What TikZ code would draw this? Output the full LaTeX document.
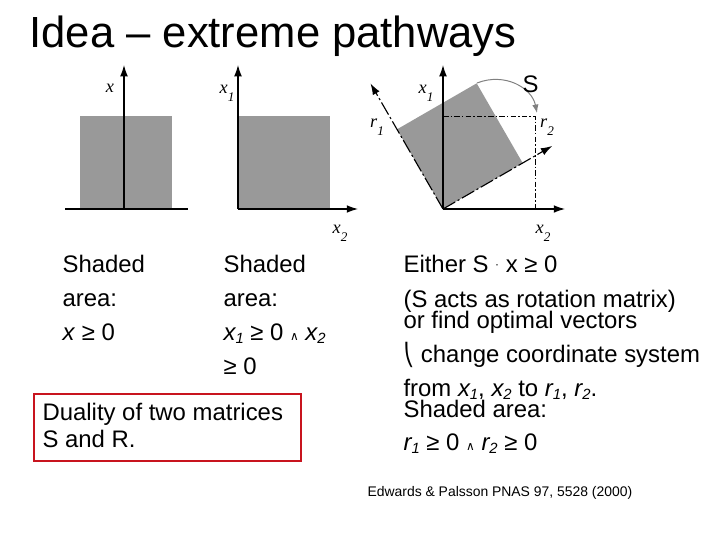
\documentclass[tikz,border=0pt]{standalone}
\usepackage{fontspec}
\setmainfont{Liberation Sans}
\newfontfamily\labelfont{Liberation Serif}
\newfontfamily\symfont{DejaVu Sans}
\usetikzlibrary{arrows.meta}
\newcommand{\dn}[2][-0.15em]{\raisebox{#1}{\scalebox{0.62}{#2}}}
\newcommand{\axdn}[1]{\raisebox{-0.45em}{\scalebox{0.72}{#1}}}
\newcommand{\wedgesym}{{\symfont\scalebox{0.5}{∧}}}

\begin{document}
\begin{tikzpicture}[x=0.025cm, y=-0.025cm, >={Latex[length=8pt,width=5.5pt]}, line width=0.8pt,
  shaded/.style={fill=black!40, draw=none},
  axislbl/.style={font=\labelfont\itshape\fontsize{13}{13}\selectfont, inner sep=0pt},
  body/.style={font=\fontsize{17}{20}\selectfont, anchor=base west, inner sep=0pt},
  rotaxis/.style={dash pattern=on 10pt off 2pt on 1.5pt off 2pt}]
\useasboundingbox (0,0) rectangle (720,540);

\node[body, font=\fontsize{31}{34}\selectfont] (title) at (29,47) {Idea – extreme pathways};

% first picture
\fill[shaded] (80,116) rectangle (172,209);
\draw[->] (124,209) -- (124,65);
\draw (65,209) -- (188,209);
\node[axislbl] (xa) at (110,88) {x};

% second picture
\fill[shaded] (238,116) rectangle (330,209);
\draw[->] (238,209) -- (238,65);
\draw[->] (238,209) -- (358,209);
\node[axislbl] (xb1) at (227,93) {x\axdn{1}};
\node[axislbl] (xb2) at (340,233) {x\axdn{2}};

% third picture, rotated square
\coordinate (o) at (443,209);
\fill[shaded] (o) -- ++(-30:92) -- ++(-120:92) -- ++(150:92) -- cycle;
\draw[dash pattern=on 4pt off 1.5pt on 1pt off 1.5pt, line width=0.6pt] (443,116) -| (535,209);
\draw[->] (o) -- (443,65);
\draw[->] (o) -- (565,209);
\draw[->, rotaxis] (o) -- ++(-120:145) coordinate (r1tip);
\draw[->, rotaxis] (o) -- ++(-30:126) coordinate (r2tip);
\coordinate (sq) at (477,83);
\coordinate (sqend) at (537,113);
\draw[->, gray, line width=0.7pt, >={Latex[length=6pt,width=4.5pt]}] (sq) .. controls (505,72) and (532,88) .. (sqend);
\node[body] (slbl) at (522,92) {S};
\node[axislbl] (xc1) at (426,93) {x\axdn{1}};
\node[axislbl] (rc1) at (377,127) {r\axdn{1}};
\node[axislbl] (rc2) at (547,127) {r\axdn{2}};
\node[axislbl] (xc2) at (543,233) {x\axdn{2}};

% captions
\node[body] (ca1) at (62,272) {Shaded};
\node[body] (ca2) at (62,306) {area:};
\node[body] (ca3) at (62,340) {\textit{x} ≥ 0};
\node[body] (cb1) at (223,272) {Shaded};
\node[body] (cb2) at (223,306) {area:};
\node[body] (cb3) at (223,340) {\textit{x\dn{1}} ≥ 0 \wedgesym\ \textit{x\dn{2}}};
\node[body] (cb4) at (223,374) {≥ 0};

\node[draw={rgb,255:red,200;green,20;blue,30}, line width=1.6pt, minimum width=267*0.025cm, minimum height=67*0.025cm, anchor=north west, inner sep=0pt] (dual) at (33,393) {};
\node[body] (du1) at (42,420) {Duality of two matrices};
\node[body] (du2) at (42,447) {S and R.};

\node[body] (ra) at (403,272) {Either S \raisebox{0.15em}{\scalebox{0.5}{·}} x ≥ 0};
\node[body] (rb) at (403,307) {(S acts as rotation matrix)};
\node[body] (rc) at (403,328) {or find optimal vectors};
\node[body] (rd) at (403,362) {{\symfont\scalebox{0.9}{⎝}} change coordinate system};
\node[body] (re) at (403,396) {from \textit{x\dn{1}}, \textit{x\dn{2}} to \textit{r\dn{1}}, \textit{r\dn{2}}.};
\node[body] (rf) at (403,417) {Shaded area:};
\node[body] (rg) at (403,450) {\textit{r\dn{1}} ≥ 0 \wedgesym\ \textit{r\dn{2}} ≥ 0};

\node[body, font=\fontsize{9.9}{11}\selectfont] (cite) at (367,496) {Edwards \& Palsson PNAS 97, 5528 (2000)};
\end{tikzpicture}
\end{document}
